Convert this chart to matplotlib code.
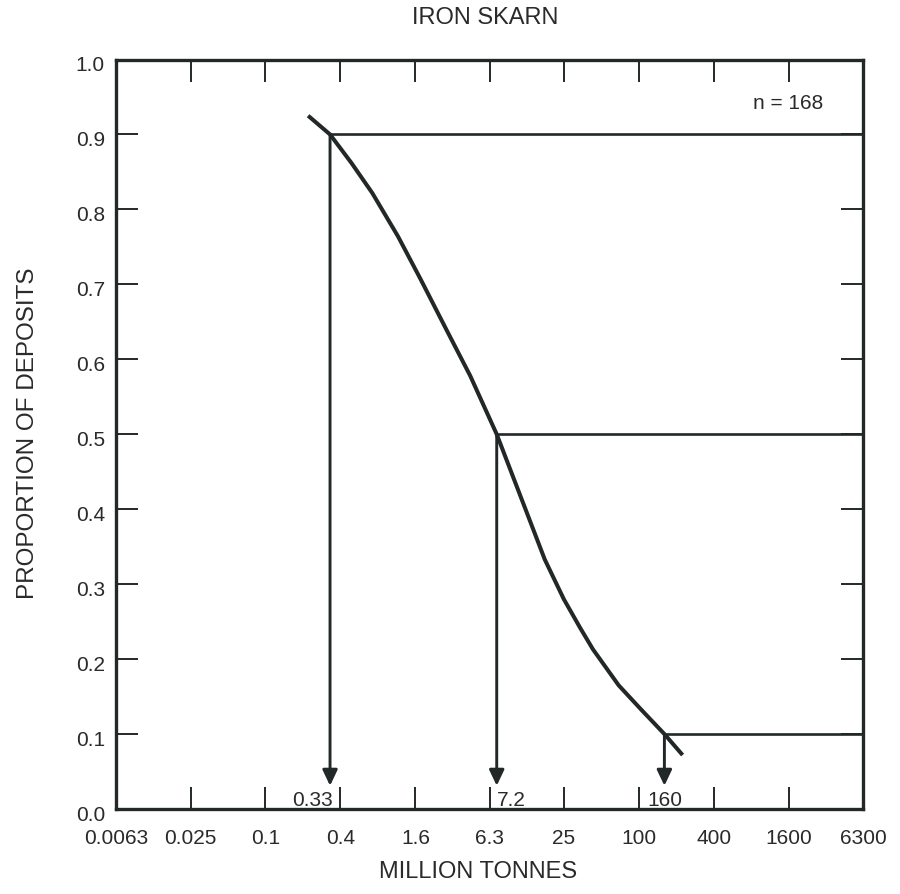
import matplotlib
matplotlib.use("Agg")
import matplotlib.pyplot as plt
from matplotlib.ticker import FixedLocator, FixedFormatter, NullLocator
from matplotlib.transforms import ScaledTranslation

plt.rcParams['font.family'] = ['Liberation Sans', 'DejaVu Sans']

INK = '#222828'
TXT = '#2a2a2a'

# Grade-tonnage curve: cumulative proportion of deposits vs. ore tonnage
curve_tonnage = [0.22, 0.33, 0.49, 0.72, 1.16, 1.76, 2.83, 4.41, 7.2, 12.0,
                 17.5, 24.9, 33.6, 42.7, 68.7, 105, 160, 224]
curve_prop = [0.925, 0.9, 0.862, 0.822, 0.764, 0.707, 0.640, 0.578, 0.5, 0.404,
              0.333, 0.28, 0.242, 0.213, 0.165, 0.132, 0.1, 0.072]

# 90th, 50th and 10th percentile tonnages
pct_levels = [0.9, 0.5, 0.1]
pct_tonnage = [0.33, 7.2, 160]
pct_labels = ["0.33", "7.2", "160"]

x_ticks = [0.0063, 0.025, 0.1, 0.4, 1.6, 6.3, 25, 100, 400, 1600, 6300]
x_tick_labels = ["0.0063", "0.025", "0.1", "0.4", "1.6", "6.3", "25", "100",
                 "400", "1600", "6300"]
y_ticks = [0.0, 0.1, 0.2, 0.3, 0.4, 0.5, 0.6, 0.7, 0.8, 0.9, 1.0]
y_tick_labels = ["0.0", "0.1", "0.2", "0.3", "0.4", "0.5", "0.6", "0.7",
                 "0.8", "0.9", "1.0"]
n_deposits = 168

W, H = 900, 895
fig = plt.figure(figsize=(W / 100, H / 100), dpi=100)
ax = fig.add_axes([116 / W, (H - 810) / H, 747 / W, 749.5 / H])

ax.set_xscale('log')
ax.set_xlim(x_ticks[0], x_ticks[-1])
ax.set_ylim(0, 1)

for s in ax.spines.values():
    s.set_linewidth(2.4)
    s.set_color(INK)

ax.xaxis.set_major_locator(FixedLocator(x_ticks))
ax.xaxis.set_major_formatter(FixedFormatter(x_tick_labels))
ax.xaxis.set_minor_locator(NullLocator())
ax.yaxis.set_major_locator(FixedLocator(y_ticks))
ax.yaxis.set_major_formatter(FixedFormatter(y_tick_labels))
ax.tick_params(axis='both', which='major', direction='in', length=16,
               width=1.4, color=INK, labelsize=15, labelcolor=TXT,
               top=True, right=True)
ax.tick_params(axis='x', pad=14)
ax.tick_params(axis='y', pad=8)

# y labels sit a little below their ticks
shift = ScaledTranslation(0, -2.5 / 72, fig.dpi_scale_trans)
for lab in ax.get_yticklabels():
    lab.set_transform(lab.get_transform() + shift)

# curve
ax.plot(curve_tonnage, curve_prop, color=INK, lw=2.9, solid_capstyle='butt',
        solid_joinstyle='round', zorder=4)

# percentile guides
label_offsets = [(2, 'right'), (0, 'left'), (0, 'center')]
for lvl, t, lab, (dx, ha) in zip(pct_levels, pct_tonnage, pct_labels,
                                 label_offsets):
    ax.hlines(lvl, t, x_ticks[-1], color=INK, lw=1.9, zorder=3)
    ax.annotate('', xy=(t, 0.031), xytext=(t, lvl),
                arrowprops=dict(arrowstyle='-|>,head_length=0.95,head_width=0.45',
                                mutation_scale=10, color=INK, lw=2.1,
                                shrinkA=0, shrinkB=0),
                zorder=3)
    ax.annotate(lab, xy=(t, 0.013), xytext=(dx, 0), textcoords='offset points',
                ha=ha, va='center', fontsize=15, color=TXT)

ax.text(0.9465, 0.943, f"n = {n_deposits}", transform=ax.transAxes, ha='right',
        va='center', fontsize=15, color=TXT)

fig.text(485 / W, 1 - 18 / H, "IRON SKARN", ha='center', va='center',
         fontsize=17, color=TXT)
fig.text(478 / W, 1 - 872 / H, "MILLION TONNES", ha='center', va='center',
         fontsize=17, color=TXT)
fig.text(28 / W, 1 - 433 / H, "PROPORTION OF DEPOSITS", ha='center',
         va='center', rotation=90, fontsize=17.5, color=TXT)

fig.savefig('out.png', dpi=100, facecolor='white')
